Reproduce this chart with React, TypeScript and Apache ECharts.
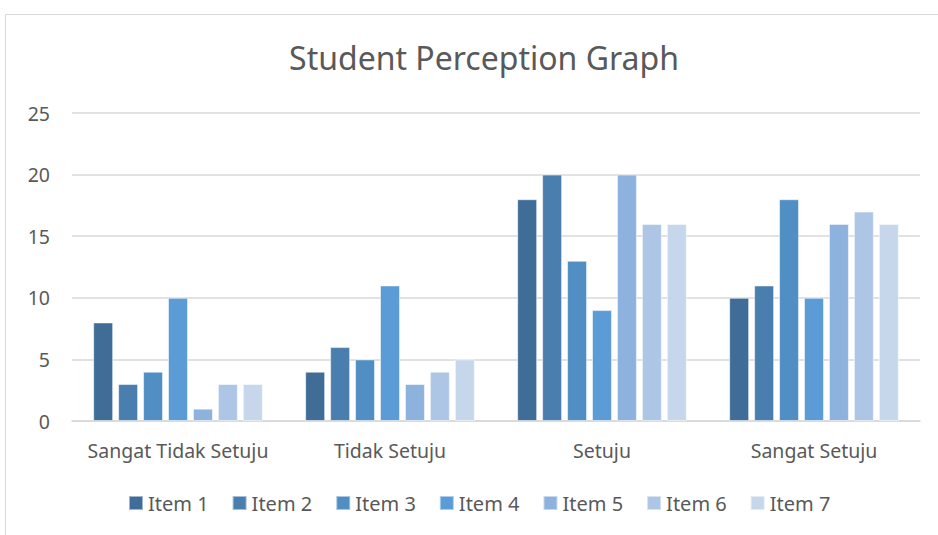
import React, { useEffect, useRef } from "react";
import * as echarts from "echarts";

const categories = ["Sangat Tidak Setuju", "Tidak Setuju", "Setuju", "Sangat Setuju"];
const seriesNames = ["Item 1", "Item 2", "Item 3", "Item 4", "Item 5", "Item 6", "Item 7"];
const item1 = [8, 4, 18, 10];
const item2 = [3, 6, 20, 11];
const item3 = [4, 5, 13, 18];
const item4 = [10, 11, 9, 10];
const item5 = [1, 3, 20, 16];
const item6 = [3, 4, 16, 17];
const item7 = [3, 5, 16, 16];
const seriesValues = [item1, item2, item3, item4, item5, item6, item7];
const colors = ["#3F6D98", "#4A7EAF", "#518EC3", "#5B9BD6", "#8DB2DE", "#ADC6E6", "#C6D7EC"];

const FONT = "'Noto Sans', sans-serif";

export default function App() {
  const ref = useRef<HTMLDivElement>(null);
  useEffect(() => {
    if (!ref.current) return;
    const chart = echarts.init(ref.current, undefined, { renderer: "svg" });
    chart.setOption({
      animation: false,
      backgroundColor: "#ffffff",
      textStyle: { fontFamily: FONT },
      color: colors,
      title: {
        text: "Student Perception Graph",
        left: 479,
        top: 36,
        textAlign: "center",
        textStyle: { fontFamily: FONT, fontSize: 32, fontWeight: "normal", color: "#595959" },
      },
      graphic: [
        {
          type: "rect",
          shape: { x: 5.5, y: 14.5, width: 940, height: 540 },
          style: { fill: "none", stroke: "#D9D9D9", lineWidth: 1 },
          silent: true,
        },
      ],
      legend: {
        top: 488,
        left: 123,
        itemWidth: 14,
        itemHeight: 14,
        itemGap: 23,
        icon: "rect",
        data: seriesNames,
        textStyle: { fontFamily: FONT, fontSize: 20, color: "#595959" },
      },
      grid: { left: 72, right: 18, top: 113, bottom: 114, containLabel: false },
      xAxis: {
        type: "category",
        data: categories,
        axisLine: { show: true, lineStyle: { color: "#D9D9D9", width: 1.5 } },
        axisTick: { show: false },
        axisLabel: { interval: 0, fontFamily: FONT, fontSize: 19.5, color: "#595959", margin: 19 },
      },
      yAxis: {
        type: "value",
        min: 0,
        max: 25,
        interval: 5,
        axisLine: { show: false },
        axisTick: { show: false },
        splitLine: { lineStyle: { color: "#D9D9D9", width: 1.5 } },
        axisLabel: { fontFamily: FONT, fontSize: 19.5, color: "#595959", margin: 22 },
      },
      series: seriesNames.map((name, i) => ({
        name,
        type: "bar",
        data: seriesValues[i],
        barGap: "25%",
        barCategoryGap: "20%",
        itemStyle: { color: colors[i], borderColor: "rgba(255,255,255,0.5)", borderWidth: 1 },
      })),
    });
    return () => chart.dispose();
  }, []);
  return (
    <div
      ref={ref}
      style={{ position: "absolute", left: 0, top: 0, width: 938, height: 535 }}
    />
  );
}
